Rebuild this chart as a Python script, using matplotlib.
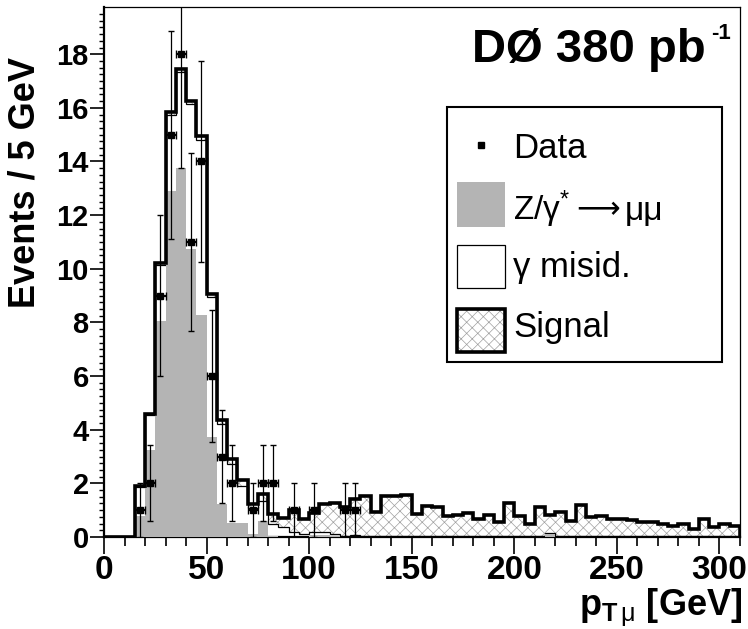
import numpy as np
import matplotlib
matplotlib.use('Agg')
import matplotlib.pyplot as plt
from matplotlib.patches import Rectangle
from matplotlib.lines import Line2D

plt.rcParams['font.family'] = ['Liberation Sans', 'DejaVu Sans']
plt.rcParams['mathtext.fontset'] = 'custom'
plt.rcParams['mathtext.rm'] = 'Liberation Sans'
plt.rcParams['mathtext.bf'] = 'Liberation Sans:bold'
plt.rcParams['mathtext.it'] = 'Liberation Sans:italic'
plt.rcParams['hatch.linewidth'] = 0.5

# 5 GeV bins from 0 to 310 GeV
edges = np.arange(0, 315, 5)

# Z/gamma* -> mumu (grey)
z_mumu = [0, 0, 0, 0.80, 3.23, 8.04, 12.89, 13.74, 10.75, 8.26,
          3.72, 1.24, 0.53, 0.53, 0.10, 0.60, 0.02, 0, 0, 0,
          0.08, 0.08, 0.05, 0, 0, 0, 0, 0, 0, 0,
          0, 0, 0, 0, 0, 0, 0, 0, 0, 0,
          0, 0, 0, 0.12, 0, 0, 0, 0, 0, 0,
          0, 0, 0, 0, 0, 0, 0, 0, 0, 0,
          0, 0]

# gamma misid (white)
misid = [0, 0, 0, 1.07, 1.32, 2.11, 2.84, 3.58, 5.38, 6.56,
         5.21, 2.98, 2.21, 1.38, 0.99, 0.76, 0.47, 0.37, 0.19, 0.10,
         0.12, 0.10, 0.06, 0.05, 0.08, 0.03, 0.03, 0.03, 0.02, 0.02,
         0.02, 0.02, 0.02, 0.02, 0.02, 0.02, 0.02, 0.02, 0.02, 0.02,
         0.02, 0.02, 0.02, 0.02, 0.02, 0.02, 0.02, 0.02, 0.02, 0.02,
         0.02, 0.02, 0.02, 0.02, 0.02, 0.02, 0.02, 0.02, 0.02, 0.02,
         0.02, 0.02]

# signal (hatched, thick outline)
signal = [0, 0, 0, 0.03, 0.05, 0.08, 0.10, 0.12, 0.12, 0.12,
          0.12, 0.15, 0.15, 0.20, 0.15, 0.25, 0.38, 0.33, 0.81, 0.56,
          0.70, 1.04, 1.17, 1.05, 1.34, 1.48, 0.90, 1.49, 1.50, 1.54,
          0.82, 1.13, 1.10, 0.78, 0.80, 0.88, 0.66, 0.80, 0.53, 1.26,
          0.76, 0.45, 1.08, 0.68, 0.92, 0.57, 1.16, 0.72, 0.78, 0.66,
          0.66, 0.60, 0.54, 0.54, 0.45, 0.38, 0.45, 0.28, 0.66, 0.35,
          0.45, 0.38]

# data counts
data = [0, 0, 0, 1, 2, 9, 15, 18, 11, 14,
        6, 3, 2, 0, 1, 2, 2, 0, 1, 0,
        1, 0, 0, 1, 1, 0, 0, 0, 0, 0,
        0, 0, 0, 0, 0, 0, 0, 0, 0, 0,
        0, 0, 0, 0, 0, 0, 0, 0, 0, 0,
        0, 0, 0, 0, 0, 0, 0, 0, 0, 0,
        0, 0]

W, H = 748, 629
def fx(p):
    return p / W
def fy(p):
    return 1 - p / H

fig = plt.figure(figsize=(7.48, 6.29), dpi=100)
ax = fig.add_axes([fx(104), fy(537), (740 - 104) / W, (537 - 7) / H])

s1 = np.array(z_mumu)
s2 = s1 + np.array(misid)
s3 = s2 + np.array(signal)

grey = '#b4b4b4'
hatch_col = '#a0a0a0'
ax.stairs(s3, edges, fill=True, facecolor='white', edgecolor=hatch_col,
          hatch='xxx', linewidth=0, zorder=1)
ax.stairs(s2, edges, fill=True, facecolor='white', linewidth=0, zorder=2)
ax.stairs(s2, edges, color='black', linewidth=0.9, zorder=3)
ax.stairs(s1, edges, fill=True, facecolor=grey, linewidth=0, zorder=4)
ax.stairs(s3, edges, color='black', linewidth=2.6, zorder=5)

d = np.array(data, dtype=float)
centers = edges[:-1] + 2.5
m = d > 0
ax.errorbar(centers[m], d[m], yerr=np.sqrt(d[m]), fmt='none', ecolor='black',
            elinewidth=0.9, capsize=2.5, zorder=6)
ax.errorbar(centers[m], d[m], xerr=2.5, fmt='s', ms=4.5, color='black',
            elinewidth=1.6, capsize=3, zorder=7)

ax.set_xlim(0, 310)
ax.set_ylim(0, 19.76)
ax.set_xticks(np.arange(0, 301, 50))
ax.set_xticks(np.arange(0, 311, 10), minor=True)
ax.set_yticks(np.arange(0, 19, 2))
ax.set_yticks(np.arange(0, 19.7, 0.25), minor=True)
ax.tick_params(axis='x', which='major', direction='out', length=12, width=1.2, pad=1, labelsize=24)
ax.tick_params(axis='x', which='minor', direction='out', length=6.5, width=1.2)
ax.tick_params(axis='y', which='major', direction='out', length=10, width=1.2, pad=1, labelsize=21)
ax.tick_params(axis='y', which='minor', direction='out', length=3.6, width=1.0)
for lab in ax.get_xticklabels() + ax.get_yticklabels():
    lab.set_fontweight('bold')

ax.spines['left'].set_linewidth(1.6)
ax.spines['bottom'].set_linewidth(1.6)
ax.spines['top'].set_linewidth(0.9)
ax.spines['right'].set_linewidth(0.9)

fig.text(fx(25), fy(57), 'Events / 5 GeV', rotation=90, ha='center', va='top',
         size=26, weight='bold')
fig.text(fx(742), fy(616), r'$\mathbf{p}_{\mathbf{T}\,\mathrm{μ}}$ [GeV]',
         ha='right', va='baseline', size=26, weight='bold')

fig.text(fx(706), fy(62), 'DØ 380 pb', ha='right', va='baseline', size=34, weight='bold')
fig.text(fx(731), fy(39), '-1', ha='right', va='baseline', size=16, weight='bold')

# legend
tf = fig.transFigure
fig.add_artist(Rectangle((fx(447), fy(362)), (722 - 447) / W, (362 - 107) / H,
                         facecolor='white', edgecolor='black', linewidth=1.5, transform=tf))
fig.add_artist(Line2D([fx(481)], [fy(145)], marker='s', ms=4.5, color='black', transform=tf))
fig.add_artist(Rectangle((fx(457), fy(227)), 48 / W, 45 / H, facecolor=grey,
                         linewidth=0, transform=tf))
fig.add_artist(Rectangle((fx(457), fy(288)), 48 / W, 43 / H, facecolor='white',
                         edgecolor='black', linewidth=0.9, transform=tf))
fig.add_artist(Rectangle((fx(457), fy(352)), 48 / W, 43 / H, facecolor='white',
                         edgecolor=hatch_col, hatch='xxx', linewidth=0, transform=tf))
fig.add_artist(Rectangle((fx(457), fy(352)), 48 / W, 43 / H, facecolor='none',
                         edgecolor='black', linewidth=2.6, transform=tf))

fig.text(fx(513), fy(158), 'Data', size=25, va='baseline')
fig.text(fx(513), fy(277), 'γ misid.', size=25, va='baseline')
fig.text(fx(513), fy(337), 'Signal', size=25, va='baseline')

# Z/gamma* -> mumu label built from pieces so the arrow can use DejaVu Sans
renderer = fig.canvas.get_renderer()
t1 = fig.text(fx(513), fy(220), 'Z/γ$^{*}$', size=24, va='baseline')
x1 = t1.get_window_extent(renderer).x1
t2 = fig.text((x1 + 6) / W, fy(218), '⟶', size=22, va='baseline', family='DejaVu Sans')
x2 = t2.get_window_extent(renderer).x1
fig.text((x2 + 5) / W, fy(220), 'μμ', size=24, va='baseline')

fig.savefig('out.png', dpi=100)
